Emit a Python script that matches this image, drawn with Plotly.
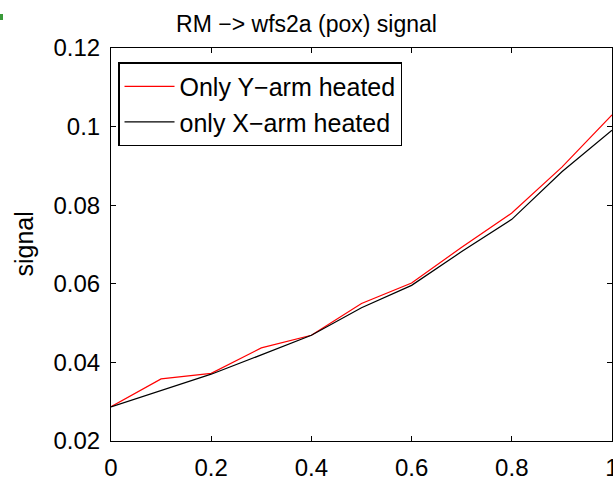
import plotly.graph_objects as go

x_vals = [0, 0.1, 0.2, 0.3, 0.4, 0.5, 0.6, 0.7, 0.8, 0.9, 1.0]
y_arm = [0.0287, 0.0358, 0.0372, 0.0437, 0.0469, 0.0550, 0.0602, 0.0693, 0.0780, 0.0897, 0.1030]
x_arm = [0.0287, 0.0328, 0.0370, 0.0419, 0.0469, 0.0539, 0.0596, 0.0682, 0.0764, 0.0885, 0.0991]

title_text = "RM −> wfs2a (pox) signal"
y_label = "signal"
names = ["Only Y−arm heated", "only X−arm heated"]

FONT = "Liberation Sans, Arial, Helvetica, sans-serif"

fig = go.Figure()
fig.add_trace(go.Scatter(x=x_vals, y=y_arm, mode="lines", name=names[0],
                         line=dict(color="#ff0000", width=1.2)))
fig.add_trace(go.Scatter(x=x_vals, y=x_arm, mode="lines", name=names[1],
                         line=dict(color="#000000", width=1.2)))

axis_common = dict(showline=True, linecolor="black", linewidth=1, mirror="ticks",
                   ticks="inside", ticklen=5, tickcolor="black", tickwidth=1,
                   showgrid=False, zeroline=False, automargin=False,
                   tickfont=dict(family=FONT, size=24, color="black"))

fig.update_layout(
    width=613, height=481,
    margin=dict(l=111, r=1, t=48, b=40),
    paper_bgcolor="white", plot_bgcolor="white",
    font=dict(family=FONT, color="black"),
    title=dict(text=title_text, x=0.5, xref="container", xanchor="center",
               y=1 - 24 / 481, yref="container", yanchor="middle",
               font=dict(family=FONT, size=23, color="black")),
    xaxis=dict(range=[0, 1], dtick=0.2, tick0=0, ticklabelstandoff=5,
               ticklabeloverflow="allow", **axis_common),
    yaxis=dict(range=[0.02, 0.12], dtick=0.02, tick0=0.02, ticklabelstandoff=5, **axis_common),
    legend=dict(x=0.014, y=0.964, xanchor="left", yanchor="top",
                bgcolor="white", bordercolor="black", borderwidth=1.5,
                font=dict(family=FONT, size=25, color="black"),
                itemwidth=50, tracegroupgap=0),
    showlegend=True,
)

fig.add_annotation(text=y_label, xref="paper", yref="paper",
                   x=(23 - 111) / 501, y=0.5, textangle=-90, showarrow=False,
                   xanchor="center", yanchor="middle",
                   font=dict(family=FONT, size=25, color="black"))

fig.add_shape(type="rect", xref="paper", yref="paper",
              x0=-111 / 501, x1=(3 - 111) / 501,
              y0=1 + (48 - 20) / 393, y1=1 + (48 - 14) / 393,
              fillcolor="#3a9a3a", line=dict(width=0))

fig.write_html("out.html")
